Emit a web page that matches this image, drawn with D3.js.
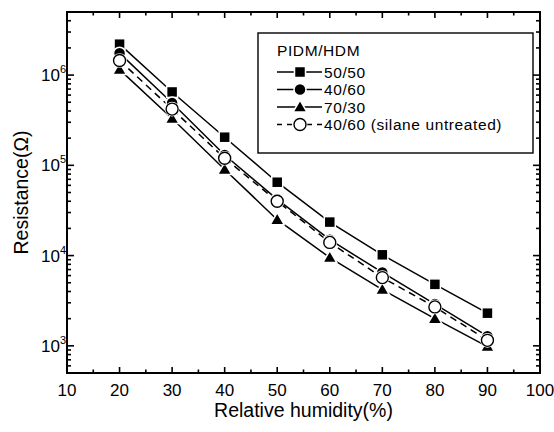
<!DOCTYPE html>
<html lang="en">
<head>
<meta charset="UTF-8">
<title>Resistance vs relative humidity</title>
<script src="https://d3js.org/d3.v7.min.js"></script>
<style>
    body { margin: 0; background: #fff; }
    svg { display: block; font-family: "Liberation Sans", Arial, sans-serif; }
    .tick-label { font-size: 17px; fill: #000; }
    .axis-title { font-size: 19.5px; fill: #000; }
    .legend-text { font-size: 15.5px; letter-spacing: 0.6px; fill: #000; }
</style>
</head>
<body>
<svg id="chart" width="554" height="432"></svg>
<script>
    // humidity (%) on x
    const humidity = [20, 30, 40, 50, 60, 70, 80, 90];

    // resistance (ohm) per sample
    const r5050 = [2.2e6, 6.5e5, 2.05e5, 6.5e4, 2.35e4, 1.02e4, 4.8e3, 2.3e3];
    const r4060 = [1.75e6, 4.9e5, 1.3e5, 4.2e4, 1.5e4, 6.5e3, 2.9e3, 1.28e3];
    const r7030 = [1.15e6, 3.3e5, 9.0e4, 2.5e4, 9.5e3, 4.2e3, 2.0e3, 0.98e3];
    const r4060u = [1.45e6, 4.2e5, 1.2e5, 4.0e4, 1.4e4, 5.7e3, 2.7e3, 1.15e3];

    const seriesNames = ["50/50", "40/60", "70/30", "40/60 (silane untreated)"];
    const legendTitle = "PIDM/HDM";
    const xTicks = [10, 20, 30, 40, 50, 60, 70, 80, 90, 100];
    const yTicks = [1e3, 1e4, 1e5, 1e6];

    const series = [
        { name: seriesNames[0], values: r5050, marker: "square", dash: null },
        { name: seriesNames[1], values: r4060, marker: "circle", dash: null },
        { name: seriesNames[2], values: r7030, marker: "triangle", dash: null },
        { name: seriesNames[3], values: r4060u, marker: "open", dash: "7,5" }
    ];

    const margin = { top: 12, right: 14, bottom: 59, left: 67 };
    const width = 554, height = 432;

    const svg = d3.select("#chart");

    const x = d3.scaleLinear().domain([10, 100]).range([margin.left, width - margin.right]);
    const y = d3.scaleLog().domain([500, 5e6]).range([height - margin.bottom, margin.top]);

    const x0 = x.range()[0], x1 = x.range()[1];
    const y0 = y.range()[0], y1 = y.range()[1];

    // minor log ticks
    const minorY = [];
    for (let e = 2; e <= 6; e++) {
        for (let m = 2; m <= 9; m++) {
            const v = m * Math.pow(10, e);
            if (v >= 500 && v <= 5e6) minorY.push(v);
        }
    }
    const minorX = d3.range(15, 100, 10);

    const axes = svg.append("g").attr("stroke", "#000").attr("stroke-width", 1.6);

    // frame
    axes.append("rect")
        .attr("x", x0).attr("y", y1)
        .attr("width", x1 - x0).attr("height", y0 - y1)
        .attr("fill", "none").attr("stroke-width", 2);

    // x ticks (bottom and top, inward)
    xTicks.slice(1, -1).forEach(v => {
        axes.append("line").attr("x1", x(v)).attr("x2", x(v)).attr("y1", y0).attr("y2", y0 - 6);
        axes.append("line").attr("x1", x(v)).attr("x2", x(v)).attr("y1", y1).attr("y2", y1 + 6);
    });
    minorX.forEach(v => {
        axes.append("line").attr("x1", x(v)).attr("x2", x(v)).attr("y1", y0).attr("y2", y0 - 3.5);
        axes.append("line").attr("x1", x(v)).attr("x2", x(v)).attr("y1", y1).attr("y2", y1 + 3.5);
    });

    // y ticks (left and right, inward)
    yTicks.forEach(v => {
        axes.append("line").attr("x1", x0).attr("x2", x0 + 7).attr("y1", y(v)).attr("y2", y(v));
        axes.append("line").attr("x1", x1).attr("x2", x1 - 7).attr("y1", y(v)).attr("y2", y(v));
    });
    minorY.forEach(v => {
        axes.append("line").attr("x1", x0).attr("x2", x0 + 4).attr("y1", y(v)).attr("y2", y(v));
        axes.append("line").attr("x1", x1).attr("x2", x1 - 4).attr("y1", y(v)).attr("y2", y(v));
    });

    // tick labels
    svg.append("g").selectAll("text")
        .data(xTicks).enter().append("text")
        .attr("class", "tick-label")
        .attr("x", d => x(d)).attr("y", y0 + 23)
        .attr("text-anchor", "middle")
        .text(d => d);

    const yl = svg.append("g").selectAll("text")
        .data(yTicks).enter().append("text")
        .attr("class", "tick-label")
        .attr("x", x0 - 1).attr("y", d => y(d) + 6)
        .attr("text-anchor", "end");
    yl.append("tspan").text("10");
    yl.append("tspan").attr("font-size", "11px").attr("dy", -8)
        .text(d => Math.round(Math.log10(d)));

    // axis titles
    svg.append("text").attr("class", "axis-title")
        .attr("x", (x0 + x1) / 2).attr("y", 417)
        .attr("text-anchor", "middle")
        .text("Relative humidity(%)");
    svg.append("text").attr("class", "axis-title")
        .attr("transform", `translate(28,${(y0 + y1) / 2}) rotate(-90)`)
        .attr("text-anchor", "middle")
        .text("Resistance(\u03A9)");

    function drawMarker(g, type, cx, cy) {
        if (type === "square") {
            g.append("rect").attr("x", cx - 5.5).attr("y", cy - 5.5).attr("width", 11).attr("height", 11)
                .attr("fill", "#000").attr("stroke", "#fff").attr("stroke-width", 1.5);
        } else if (type === "circle") {
            g.append("circle").attr("cx", cx).attr("cy", cy).attr("r", 6)
                .attr("fill", "#000").attr("stroke", "#fff").attr("stroke-width", 1.5);
        } else if (type === "triangle") {
            g.append("path")
                .attr("d", `M${cx},${cy - 7}L${cx + 7},${cy + 5}L${cx - 7},${cy + 5}Z`)
                .attr("fill", "#000").attr("stroke", "#fff").attr("stroke-width", 1.5);
        } else {
            g.append("circle").attr("cx", cx).attr("cy", cy).attr("r", 7.3).attr("fill", "#fff");
            g.append("circle").attr("cx", cx).attr("cy", cy).attr("r", 6)
                .attr("fill", "#fff").attr("stroke", "#000").attr("stroke-width", 1.4);
        }
    }

    const line = d3.line().x((d, i) => x(humidity[i])).y(d => y(d));

    const plot = svg.append("g");
    series.forEach(s => {
        plot.append("path")
            .attr("d", line(s.values))
            .attr("fill", "none").attr("stroke", "#000").attr("stroke-width", 1.5)
            .attr("stroke-dasharray", s.dash);
    });
    // markers drawn after all lines, open circles last
    [2, 0, 1, 3].forEach(k => {
        const s = series[k];
        const g = plot.append("g");
        s.values.forEach((v, i) => drawMarker(g, s.marker, x(humidity[i]), y(v)));
    });

    // legend
    const lg = svg.append("g");
    lg.append("rect").attr("x", 258).attr("y", 33).attr("width", 275).attr("height", 120)
        .attr("fill", "#fff").attr("stroke", "#000").attr("stroke-width", 1.4);
    lg.append("text").attr("class", "legend-text").attr("x", 277).attr("y", 56).text(legendTitle);
    series.forEach((s, i) => {
        const cy = 72 + i * 17.5;
        lg.append("line").attr("x1", 277).attr("x2", 322).attr("y1", cy).attr("y2", cy)
            .attr("stroke", "#000").attr("stroke-width", 1.5)
            .attr("stroke-dasharray", s.dash ? "5,5" : null);
        drawMarker(lg, s.marker, 300, cy);
        lg.append("text").attr("class", "legend-text").attr("x", 324).attr("y", cy + 5.5).text(s.name);
    });
</script>
</body>
</html>
